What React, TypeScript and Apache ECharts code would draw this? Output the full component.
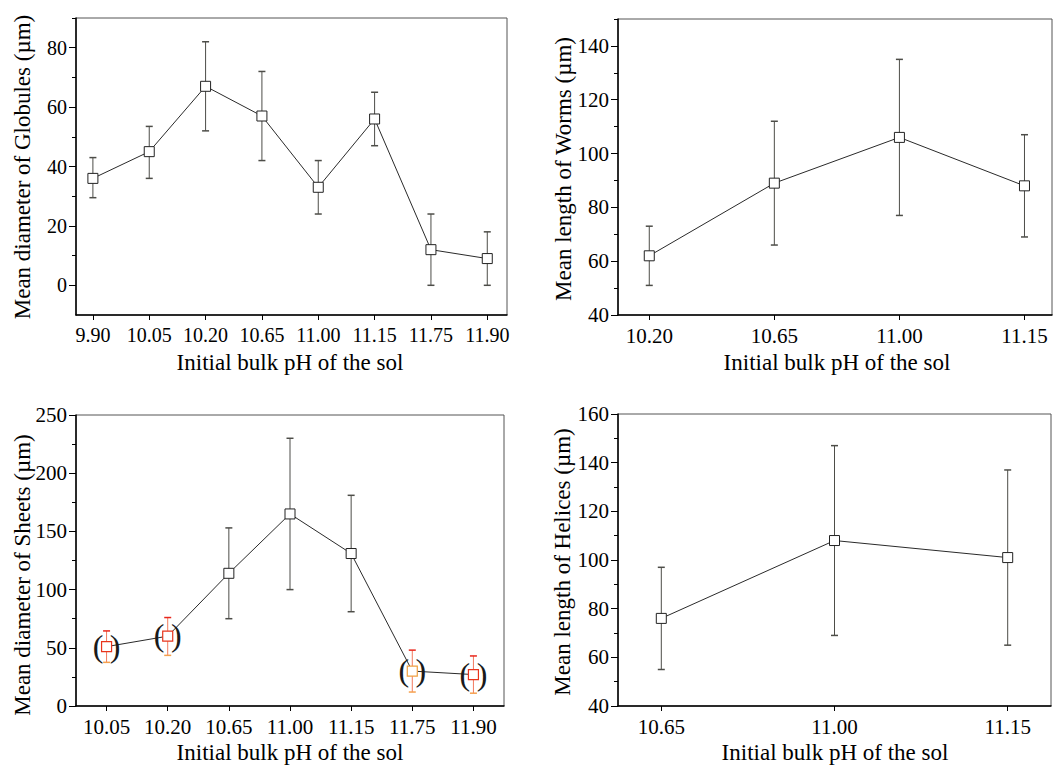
import React, { useEffect, useRef } from 'react';
import * as echarts from 'echarts';

// ---------- data ----------
const globulesPH = ['9.90', '10.05', '10.20', '10.65', '11.00', '11.15', '11.75', '11.90'];
const globulesMean = [36, 45, 67, 57, 33, 56, 12, 9];
const globulesLow = [29.5, 36, 52, 42, 24, 47, 0, 0];
const globulesHigh = [43, 53.5, 82, 72, 42, 65, 24, 18];
const globulesYLabels = [0, 20, 40, 60, 80];
const globulesYMinor = [10, 30, 50, 70, 90];

const wormsPH = ['10.20', '10.65', '11.00', '11.15'];
const wormsMean = [62, 89, 106, 88];
const wormsLow = [51, 66, 77, 69];
const wormsHigh = [73, 112, 135, 107];
const wormsYLabels = [40, 60, 80, 100, 120, 140];
const wormsYMinor = [50, 70, 90, 110, 130, 150];

const sheetsPH = ['10.05', '10.20', '10.65', '11.00', '11.15', '11.75', '11.90'];
const sheetsMean = [51, 60, 114, 165, 131, 30, 27];
const sheetsLow = [37.5, 43.5, 75, 100, 81, 12, 11];
const sheetsHigh = [64.5, 76, 153, 230, 181, 48, 43];
const sheetsBracketed = [true, true, false, false, false, true, true];
const sheetsYLabels = [0, 50, 100, 150, 200, 250];
const sheetsYMinor = [25, 75, 125, 175, 225];

const helicesPH = ['10.65', '11.00', '11.15'];
const helicesMean = [76, 108, 101];
const helicesLow = [55, 69, 65];
const helicesHigh = [97, 147, 137];
const helicesYLabels = [40, 60, 80, 100, 120, 140, 160];
const helicesYMinor = [50, 70, 90, 110, 130, 150];

const xTitle = 'Initial bulk pH of the sol';
const FONT = 'Liberation Serif';

type PanelCfg = {
  cats: string[];
  mean: number[];
  low: number[];
  high: number[];
  yLabels: number[];
  yMinor: number[];
  yMin: number;
  yMax: number;
  xMin: number;
  xMax: number;
  grid: { left: number; top: number; width: number; height: number };
  labelSize: number;
  bracketed?: boolean[];
  yTitle: string;
  yTitlePos: [number, number];
  xTitlePos: [number, number];
};

const panels: PanelCfg[] = [
  {
    cats: globulesPH, mean: globulesMean, low: globulesLow, high: globulesHigh,
    yLabels: globulesYLabels, yMinor: globulesYMinor, yMin: -10, yMax: 90,
    xMin: -0.3, xMax: 7.35,
    grid: { left: 76, top: 18, width: 431, height: 297 }, labelSize: 20,
    yTitle: 'Mean diameter of Globules (µm)', yTitlePos: [22, 167], xTitlePos: [290, 362],
  },
  {
    cats: wormsPH, mean: wormsMean, low: wormsLow, high: wormsHigh,
    yLabels: wormsYLabels, yMinor: wormsYMinor, yMin: 40, yMax: 150,
    xMin: -0.25, xMax: 3.22,
    grid: { left: 618, top: 19, width: 434, height: 296 }, labelSize: 21,
    yTitle: 'Mean length of Worms (µm)', yTitlePos: [563, 169], xTitlePos: [837, 362],
  },
  {
    cats: sheetsPH, mean: sheetsMean, low: sheetsLow, high: sheetsHigh,
    yLabels: sheetsYLabels, yMinor: sheetsYMinor, yMin: 0, yMax: 250,
    xMin: -0.5, xMax: 6.5,
    grid: { left: 76, top: 415, width: 428, height: 291 }, labelSize: 21,
    bracketed: sheetsBracketed,
    yTitle: 'Mean diameter of Sheets (µm)', yTitlePos: [22, 575], xTitlePos: [290, 752],
  },
  {
    cats: helicesPH, mean: helicesMean, low: helicesLow, high: helicesHigh,
    yLabels: helicesYLabels, yMinor: helicesYMinor, yMin: 40, yMax: 160,
    xMin: -0.25, xMax: 2.25,
    grid: { left: 618, top: 414, width: 433, height: 292 }, labelSize: 21,
    yTitle: 'Mean length of Helices (µm)', yTitlePos: [562, 562], xTitlePos: [835, 752],
  },
];

function buildOption() {
  const grids: any[] = [];
  const xAxes: any[] = [];
  const yAxes: any[] = [];
  const series: any[] = [];
  const graphics: any[] = [];

  panels.forEach((p, idx) => {
    const idxs = p.cats.map((_, i) => i);
    grids.push({
      ...p.grid,
      show: true,
      borderColor: '#555',
      borderWidth: 1,
      backgroundColor: 'transparent',
      containLabel: false,
    });
    xAxes.push({
      type: 'value',
      gridIndex: idx,
      min: p.xMin,
      max: p.xMax,
      axisLine: { show: true, onZero: false, lineStyle: { color: '#000', width: 1.5 } },
      axisTick: { show: true, customValues: idxs, length: 5, inside: false, lineStyle: { color: '#000', width: 1 } },
      axisLabel: {
        show: true,
        customValues: idxs,
        formatter: (v: number) => p.cats[Math.round(v)] ?? '',
        fontFamily: FONT,
        fontSize: p.labelSize,
        color: '#000',
        margin: 10,
      },
      splitLine: { show: false },
    });
    yAxes.push({
      type: 'value',
      gridIndex: idx,
      min: p.yMin,
      max: p.yMax,
      axisLine: { show: true, onZero: false, lineStyle: { color: '#000', width: 1.5 } },
      axisTick: { show: true, customValues: p.yLabels, length: 7, lineStyle: { color: '#000', width: 1 } },
      axisLabel: {
        show: true,
        customValues: p.yLabels,
        fontFamily: FONT,
        fontSize: p.labelSize,
        color: '#000',
        margin: 9,
      },
      splitLine: { show: false },
    });
    yAxes.push({
      type: 'value',
      gridIndex: idx,
      min: p.yMin,
      max: p.yMax,
      position: 'left',
      axisLine: { show: false, onZero: false },
      axisTick: { show: true, customValues: p.yMinor, length: 4, lineStyle: { color: '#000', width: 1 } },
      axisLabel: { show: false },
      splitLine: { show: false },
    });

    const bracket = p.bracketed;
    series.push({
      type: 'custom',
      xAxisIndex: idx,
      yAxisIndex: idx * 2,
      z: 2,
      clip: false,
      data: p.low.map((l, i) => [i, l, p.high[i]]),
      encode: { x: 0, y: [1, 2] },
      renderItem: (params: any, api: any) => {
        const x = api.value(0);
        const lo = api.coord([x, api.value(1)]);
        const hi = api.coord([x, api.value(2)]);
        const red = bracket && bracket[params.dataIndex];
        const lineColor = red ? '#f27a5e' : '#4d4d48';
        const topColor = red ? '#e8261c' : '#4d4d48';
        const botColor = red ? '#f5a04e' : '#4d4d48';
        const w = 3.5;
        return {
          type: 'group',
          children: [
            { type: 'line', shape: { x1: lo[0], y1: lo[1], x2: hi[0], y2: hi[1] }, style: { stroke: lineColor, lineWidth: 1 } },
            { type: 'line', shape: { x1: hi[0] - w, y1: hi[1], x2: hi[0] + w, y2: hi[1] }, style: { stroke: topColor, lineWidth: 1.5 } },
            { type: 'line', shape: { x1: lo[0] - w, y1: lo[1], x2: lo[0] + w, y2: lo[1] }, style: { stroke: botColor, lineWidth: 1.5 } },
          ],
        };
      },
    });

    series.push({
      type: 'line',
      xAxisIndex: idx,
      yAxisIndex: idx * 2,
      z: 3,
      symbol: 'rect',
      symbolSize: 10,
      showAllSymbol: true,
      lineStyle: { color: '#2a2a2a', width: 1 },
      itemStyle: { color: '#fff', borderColor: '#222', borderWidth: 1 },
      data: p.mean.map((v, i) => {
        const item: any = { value: [i, v] };
        if (bracket && bracket[i]) {
          item.itemStyle = { color: '#fff', borderColor: i === 5 ? '#f0a040' : '#e8341c', borderWidth: 1.2 };
          item.label = {
            show: true,
            position: 'inside',
            formatter: '(\u2009)',
            fontFamily: FONT,
            fontSize: 32,
            color: '#1a1a1a',
            offset: [0, -1],
          };
        }
        return item;
      }),
    });

    graphics.push({
      type: 'text',
      x: p.yTitlePos[0],
      y: p.yTitlePos[1],
      rotation: Math.PI / 2,
      style: {
        text: p.yTitle,
        fontFamily: FONT,
        fontSize: 23,
        fill: '#000',
        textAlign: 'center',
        textVerticalAlign: 'middle',
      },
    });
    graphics.push({
      type: 'text',
      x: p.xTitlePos[0],
      y: p.xTitlePos[1],
      style: {
        text: xTitle,
        fontFamily: FONT,
        fontSize: 23,
        fill: '#000',
        textAlign: 'center',
        textVerticalAlign: 'middle',
      },
    });
  });

  return {
    animation: false,
    backgroundColor: '#fff',
    textStyle: { fontFamily: FONT },
    grid: grids,
    xAxis: xAxes,
    yAxis: yAxes,
    series,
    graphic: graphics,
  };
}

export default function App() {
  const ref = useRef<HTMLDivElement>(null);
  useEffect(() => {
    if (!ref.current) return;
    const chart = echarts.init(ref.current, undefined, { renderer: 'svg' });
    chart.setOption(buildOption() as any);
    return () => chart.dispose();
  }, []);
  return (
    <div
      ref={ref}
      style={{ position: 'fixed', left: 0, top: 0, width: 1055, height: 765, background: '#fff' }}
    />
  );
}
